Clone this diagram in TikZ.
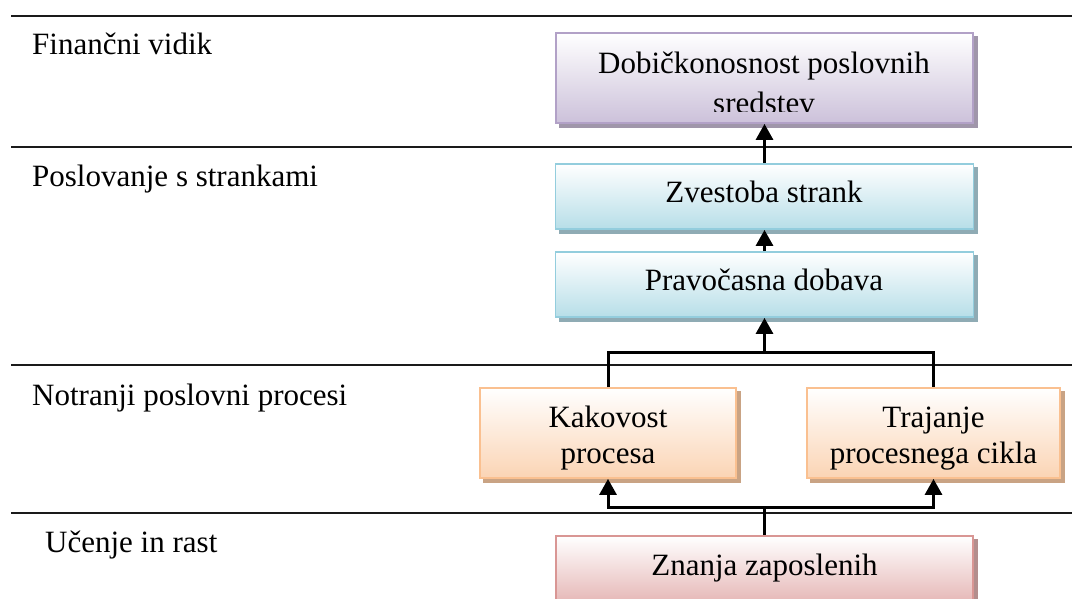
\documentclass[tikz,border=0pt]{standalone}
\usepackage{fontspec}
\setmainfont{Liberation Serif}
\usetikzlibrary{arrows.meta,backgrounds}

% box palettes: border, bottom of the gradient, shadow
\definecolor{violetborder}{HTML}{B2A1C7}
\definecolor{violetfill}{HTML}{CCC1DA}
\definecolor{violetshadow}{HTML}{A096AA}
\definecolor{tealborder}{HTML}{93CDDD}
\definecolor{tealfill}{HTML}{B7DEE8}
\definecolor{tealshadow}{HTML}{8FABB4}
\definecolor{peachborder}{HTML}{FAC090}
\definecolor{peachfill}{HTML}{FBD4B4}
\definecolor{peachshadow}{HTML}{C9A384}
\definecolor{roseborder}{HTML}{D99694}
\definecolor{rosefill}{HTML}{E6B9B8}
\definecolor{roseshadow}{HTML}{B38E8D}
\definecolor{rule}{HTML}{1A1A1A}

\begin{document}
\begin{tikzpicture}[x=1pt,y=-1pt,
  sepline/.style={line width=2pt,draw=rule},
  link/.style={line width=3pt,draw=black},
  uparrow/.style={link,-{Triangle[width=17pt,length=16pt]}},
  box/.style={draw=#1border,line width=1.8pt,top color=white,bottom color=#1fill,inner sep=0pt},
  shadowbox/.style={fill=#1shadow},
  txt/.style={anchor=base,inner sep=0pt,font=\fontsize{31}{36}\selectfont},
  lane/.style={txt,anchor=base west},
]
\clip (0,0) rectangle (1072,599);

% lane separators
\draw[sepline] (11,16) -- (1072,16);
\draw[sepline] (11,147) -- (1072,147);
\draw[sepline] (11,365) -- (1072,365);
\draw[sepline] (11,513) -- (1072,513);

% lane titles
\node[lane] (lfin) at (32,55) {Finančni vidik};
\node[lane] (lcust) at (32,187) {Poslovanje s strankami};
\node[lane] (lproc) at (32,405) {Notranji poslovni procesi};
\node[lane] (llearn) at (45,552) {Učenje in rast};

% boxes
\node[box=violet,minimum width=417pt,minimum height=90pt] (fin) at (764.5,78) {};
\node[box=teal,minimum width=418pt,minimum height=65pt] (zv) at (764.5,196.5) {};
\node[box=teal,minimum width=418pt,minimum height=65pt] (pr) at (764.5,284.5) {};
\node[box=peach,minimum width=256pt,minimum height=90pt] (kak) at (608,433) {};
\node[box=peach,minimum width=253pt,minimum height=90pt] (tra) at (933.5,433) {};
\node[box=rose,minimum width=417pt,minimum height=65pt] (zna) at (764.5,568.5) {};

% drop shadows
\begin{scope}[on background layer]
  \foreach \b/\c in {fin/violet,zv/teal,pr/teal,kak/peach,tra/peach,zna/rose}
    \fill[shadowbox=\c] ([shift={(4pt,-4pt)}]\b.south west) rectangle ([shift={(4pt,-4pt)}]\b.north east);
\end{scope}

% box texts
\begin{scope}
  \clip (fin.north west) rectangle (973,112);
  \node[txt] (fin1) at (764,74) {Dobičkonosnost poslovnih};
  \node[txt] (fin2) at (764,114) {sredstev};
\end{scope}
\node[txt] (zvt) at (764,203) {Zvestoba strank};
\node[txt] (prt) at (764,290) {Pravočasna dobava};
\node[txt] (kak1) at (608,427) {Kakovost};
\node[txt] (kak2) at (608,463) {procesa};
\node[txt] (tra1) at (933.5,427) {Trajanje};
\node[txt] (tra2) at (933.5,463) {procesnega cikla};
\node[txt] (znat) at (764.5,575) {Znanja zaposlenih};

% connectors
\coordinate (topjoin) at (764.5,352);
\coordinate (botjoin) at (764.5,507);
\draw[uparrow] (zv.north) -- (fin.south);
\draw[uparrow] (pr.north) -- (zv.south);
\draw[link] (kak.north) |- (topjoin) -| (tra.north);
\draw[uparrow] (topjoin) -- (pr.south);
\draw[link] (zna.north) -- (botjoin);
\draw[uparrow] (botjoin) -| (kak.south);
\draw[uparrow] (botjoin) -| (tra.south);
\end{tikzpicture}
\end{document}
